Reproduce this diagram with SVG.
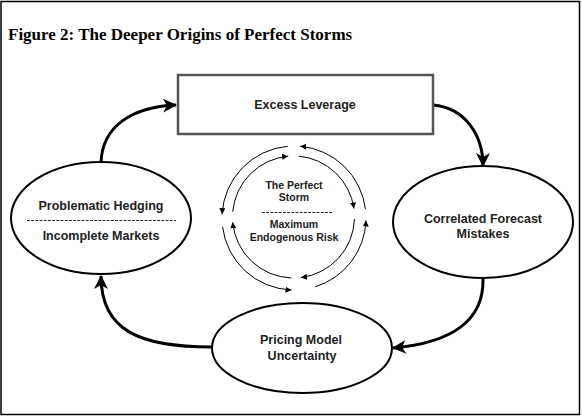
<svg xmlns="http://www.w3.org/2000/svg" width="582" height="417" viewBox="0 0 582 417">
<style>
.title{font-family:"Liberation Serif","Times New Roman",serif;font-weight:bold;font-size:17px;fill:#000}
.lbl{font-family:"Liberation Sans",Arial,sans-serif;font-weight:bold;font-size:12.5px;fill:#222;text-anchor:middle}
.clbl{font-family:"Liberation Sans",Arial,sans-serif;font-weight:bold;font-size:10.5px;fill:#222;text-anchor:middle}
.node{fill:#fff;stroke:#000;stroke-width:2}
.box{fill:#fff;stroke:#555;stroke-width:2.5}
.main{fill:none;stroke:#000;stroke-width:3}
.ring{fill:none;stroke:#000;stroke-width:1}
.dash{stroke:#222;stroke-width:1.2;stroke-dasharray:2.8,1.4}
</style>
<defs>
<marker id="big" markerUnits="userSpaceOnUse" markerWidth="16" markerHeight="16" refX="13" refY="7" orient="auto">
<path d="M0,0 L14,7 L0,14 L4,7 z" fill="#000"/>
</marker>
<marker id="small" markerUnits="userSpaceOnUse" markerWidth="8" markerHeight="8" refX="6" refY="3" orient="auto">
<path d="M0,0 L6,3 L0,6 z" fill="#000"/>
</marker>
</defs>
<rect x="1" y="1.5" width="578.5" height="413" fill="#fff" stroke="#000" stroke-width="1.5"/>
<text class="title" x="8" y="40">Figure 2: The Deeper Origins of Perfect Storms</text>
<g id="connectors">
<path class="main" d="M101,163 C102,126 132,107 176,105" marker-end="url(#big)"/>
<path class="main" d="M433,105 C466,108 483,136 483,166" marker-end="url(#big)"/>
<path class="main" d="M483,279 C484,321 451,343 393,348" marker-end="url(#big)"/>
<path class="main" d="M212,347 C140,347 101,331 101,276" marker-end="url(#big)"/>
</g>
<g id="leverage">
<rect class="box" x="178" y="75" width="255" height="59"/>
<text class="lbl" x="305" y="109">Excess Leverage</text>
</g>
<g id="hedging">
<ellipse class="node" cx="101" cy="218" rx="90" ry="56"/>
<text class="lbl" x="101" y="209.5">Problematic Hedging</text>
<line class="dash" x1="27" y1="220.5" x2="176" y2="220.5"/>
<text class="lbl" x="101" y="239.5">Incomplete Markets</text>
</g>
<g id="forecast">
<ellipse class="node" cx="483" cy="222" rx="90" ry="56"/>
<text class="lbl" x="483" y="222.5">Correlated Forecast</text>
<text class="lbl" x="483" y="238">Mistakes</text>
</g>
<g id="pricing">
<ellipse class="node" cx="302" cy="348" rx="90" ry="45"/>
<text class="lbl" x="301" y="344">Pricing Model</text>
<text class="lbl" x="302" y="359.5">Uncertainty</text>
</g>
<g id="storm">
<g id="storm-rings">
<path class="ring" d="M287.72,146.27 A72,72 0 0 0 222.10,214.23" marker-end="url(#small)"/>
<path class="ring" d="M222.54,226.77 A72,72 0 0 0 291.5,289.97" marker-end="url(#small)"/>
<path class="ring" d="M315.05,286.85 A72,72 0 0 0 365.96,220.51" marker-end="url(#small)"/>
<path class="ring" d="M365.46,209.23 A72,72 0 0 0 300.28,146.27" marker-end="url(#small)"/>
<path class="ring" d="M232.73,211.68 A61,61 0 0 1 288.18,156.23" marker-end="url(#small)"/>
<path class="ring" d="M298.82,156.23 A61,61 0 0 1 353.91,208.51" marker-end="url(#small)"/>
<path class="ring" d="M354.46,219.13 A61,61 0 0 1 300.93,277.55" marker-end="url(#small)"/>
<path class="ring" d="M291.37,277.96 A61,61 0 0 1 232.73,222.32" marker-end="url(#small)"/>
</g>
<text class="clbl" x="294" y="188.5">The Perfect</text>
<text class="clbl" x="294" y="200.5">Storm</text>
<line class="dash" x1="262" y1="212.5" x2="332" y2="212.5" style="stroke-width:1"/>
<text class="clbl" x="294" y="227.5">Maximum</text>
<text class="clbl" x="294" y="240.5">Endogenous Risk</text>
</g>
</svg>
